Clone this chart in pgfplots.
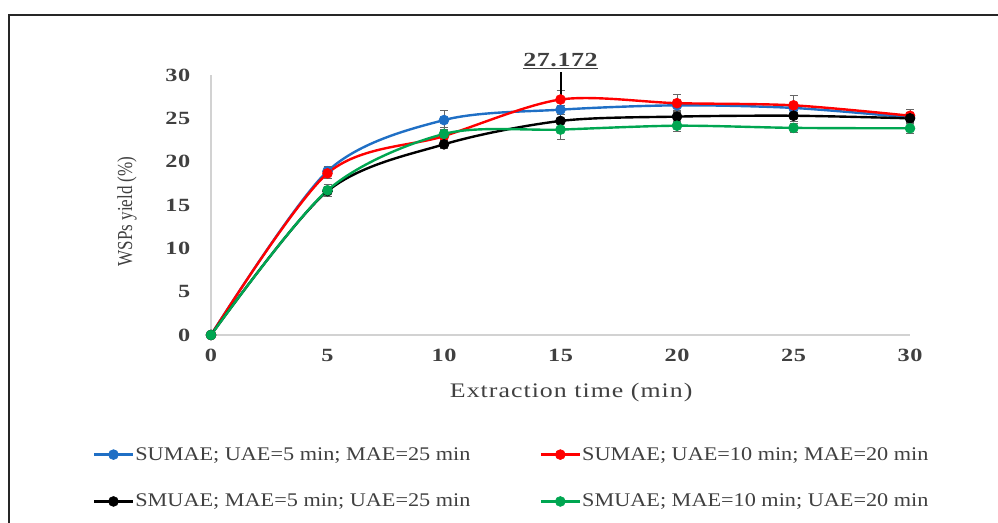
\documentclass[border=0pt]{standalone}
\usepackage{pgfplots}
\pgfplotsset{compat=1.18}
\usepackage{fontspec}
\setmainfont{Liberation Serif}
\newfontfamily\legfont[FakeStretch=1.15]{Liberation Serif}
\newfontfamily\widefont[FakeStretch=1.25,LetterSpace=5]{Liberation Serif}
\newfontfamily\tickfont[FakeStretch=1.3,LetterSpace=3]{Liberation Serif}
\newfontfamily\ylabfont[FakeStretch=0.8]{Liberation Serif}
\definecolor{cblue}{HTML}{1F6FC5}
\definecolor{cred}{HTML}{FF0000}
\definecolor{cgreen}{HTML}{00A651}
\definecolor{ctext}{HTML}{404040}
\begin{document}
\begin{tikzpicture}
\useasboundingbox (0,0) rectangle (748.5pt,391.5pt);
\draw[line width=2pt,black!85] (6.75pt,-10pt) -- (6.75pt,380.25pt) -- (760pt,380.25pt);
\begin{axis}[
  at={(158.25pt,140.25pt)}, anchor=south west,
  scale only axis, width=524.25pt, height=195pt,
  xmin=0, xmax=30, ymin=0, ymax=30,
  xtick={0,5,...,30}, ytick={0,5,...,30},
  axis lines=left,
  axis line style={-, draw=gray!35, line width=1pt},
  major tick length=0pt,
  clip=false,
  /pgf/number format/assume math mode=true,
  tick label style={font=\tickfont\bfseries\fontsize{14}{16}\selectfont, text=ctext},
  yticklabel style={xshift=-12pt},
  xticklabel style={yshift=-7pt},
  xlabel={Extraction time (min)},
  ylabel={WSPs yield (\%)},
  every axis x label/.style={at={(axis description cs:0.5,0)}, anchor=center, xshift=8pt, yshift=-43.5pt, font=\widefont\fontsize{15.5}{17}\selectfont, text=ctext},
  every axis y label/.style={at={(axis description cs:-0.12,0.475)}, anchor=center, rotate=90, font=\ylabfont\fontsize{16}{18}\selectfont, text=ctext},
  legend columns=2,
  legend style={at={(axis description cs:-0.175,-0.415)}, anchor=north west, draw=none, fill=none,
    font=\legfont\fontsize{14.5}{16}\selectfont, text=ctext,
    /tikz/every even column/.append style={column sep=51pt},
    row sep=22pt, nodes={inner sep=1pt}},
  legend image code/.code={\draw[#1, mark repeat=2, mark phase=2] plot coordinates {(0pt,0pt) (14.5pt,0pt) (29pt,0pt)};},
  every axis plot/.append style={line width=1.8pt, smooth, tension=0.5, mark=*, mark size=3.7pt,
    error bars/y dir=both, error bars/y explicit,
    error bars/error bar style={line width=0.6pt, black!60, solid},
    error bars/error mark options={rotate=90, mark size=3pt, line width=0.6pt, black!60}},
]
\addplot[color=cblue, mark options={fill=cblue, draw=cblue, line width=0.5pt}] coordinates {
 (0,0) +- (0,0)
 (5,18.9) +- (0,0.5)
 (10,24.8) +- (0,1.1)
 (15,26.0) +- (0,0.5)
 (20,26.5) +- (0,0.6)
 (25,26.2) +- (0,0.5)
 (30,25.1) +- (0,0.6)
};
\addlegendentry{SUMAE; UAE=5 min; MAE=25 min}
\addplot[color=cred, mark options={fill=cred, draw=cred, line width=0.5pt}] coordinates {
 (0,0) +- (0,0)
 (5,18.65) +- (0,0.6)
 (10,22.95) +- (0,0.5)
 (15,27.172) +- (0,1.0)
 (20,26.75) +- (0,1.0)
 (25,26.5) +- (0,1.1)
 (30,25.3) +- (0,0.7)
};
\addlegendentry{SUMAE; UAE=10 min; MAE=20 min}
\addplot[color=black, mark options={fill=black, draw=black, line width=0.5pt}] coordinates {
 (0,0) +- (0,0)
 (5,16.6) +- (0,0.6)
 (10,22.0) +- (0,0.5)
 (15,24.7) +- (0,0.7)
 (20,25.2) +- (0,0.5)
 (25,25.3) +- (0,0.6)
 (30,25.0) +- (0,0.5)
};
\addlegendentry{SMUAE; MAE=5 min; UAE=25 min}
\addplot[color=cgreen, mark options={fill=cgreen, draw=cgreen, line width=0.5pt}] coordinates {
 (0,0) +- (0,0)
 (5,16.7) +- (0,0.7)
 (10,23.2) +- (0,0.7)
 (15,23.7) +- (0,1.1)
 (20,24.15) +- (0,0.7)
 (25,23.9) +- (0,0.5)
 (30,23.85) +- (0,0.6)
};
\addlegendentry{SMUAE; MAE=10 min; UAE=20 min}
\draw[line width=1.5pt, black] (axis cs:15,27.6) -- (axis cs:15,30.35);
\node[anchor=south, inner sep=1pt, text=ctext, font=\tickfont\bfseries\fontsize{15}{17}\selectfont] at (axis cs:15,30.45) {\underline{27.172}};
\end{axis}
\end{tikzpicture}
\end{document}
